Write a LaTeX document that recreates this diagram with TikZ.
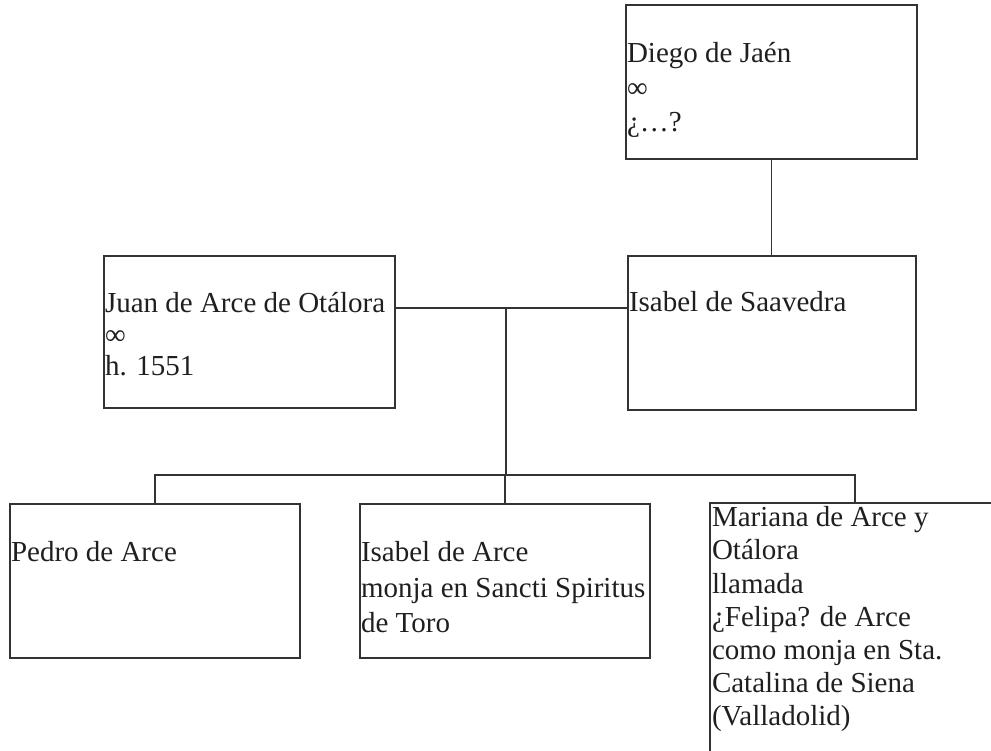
\documentclass[tikz,border=0pt]{standalone}
\usepackage{fontspec}
\setmainfont{Liberation Serif}
\begin{document}
\begin{tikzpicture}[x=1pt,y=1pt,
  box/.style={draw=black!80, line width=1.2pt, minimum width=#1, minimum height=154pt,
    inner sep=0pt, outer sep=0pt, anchor=north west},
  box/.default=290pt,
  txt/.style={inner sep=0pt, outer sep=0pt, anchor=base west, align=left,
    text=black!88, font=\fontsize{29}{#1}\selectfont},
  txt/.default=33,
  link/.style={draw=black!80, line width=1.2pt}]
\useasboundingbox (0,0) rectangle (991,751);

% parents' generation
\node[box=291pt] (diego) at (626,746) {};
\node[box=288pt] (saav)  at (628,495) {};
\node[box=291pt, minimum height=152pt] (juan) at (104,495) {};

% children
\node[box] (pedro)  at (10,247)  {};
\node[box] (isabel) at (360,247) {};
\coordinate (marTL) at (710,248);
\draw[link] (991,248) -- (marTL) -- (710,0);

% texts (each node is placed by the baseline of its last line)
\node[txt=34.5] (diegoT) at (627,619) {Diego de Jaén\\∞\\¿…?};
\node[txt=31.5] (juanT)  at (105,375) {Juan de Arce de Otálora\\∞\\h. 1551};
\node[txt]      (saavT)  at (629,439) {Isabel de Saavedra};
\node[txt]      (pedroT) at (11,189)  {Pedro de Arce};
\node[txt=35.5] (isabT)  at (361,118) {Isabel de Arce\\monja en Sancti Spiritus\\de Toro};
\node[txt=33.2] (marT)   at (712,25) {Mariana de Arce y\\Otálora\\llamada\\¿Felipa? de Arce\\como monja en Sta.\\Catalina de Siena\\(Valladolid)};

% connectors
\draw[link] (diego.south) -- (diego.south |- saav.north);
\coordinate (mar) at (506,443);
\draw[link] (juan.east |- mar) -- (saav.west |- mar);
\coordinate (sib) at (506,276);
\draw[link] (mar) -- (sib);
\draw[link] (pedro.north) |- (sib) -| (isabel.north);
\draw[link] (sib) -| (855,248);
\end{tikzpicture}
\end{document}
